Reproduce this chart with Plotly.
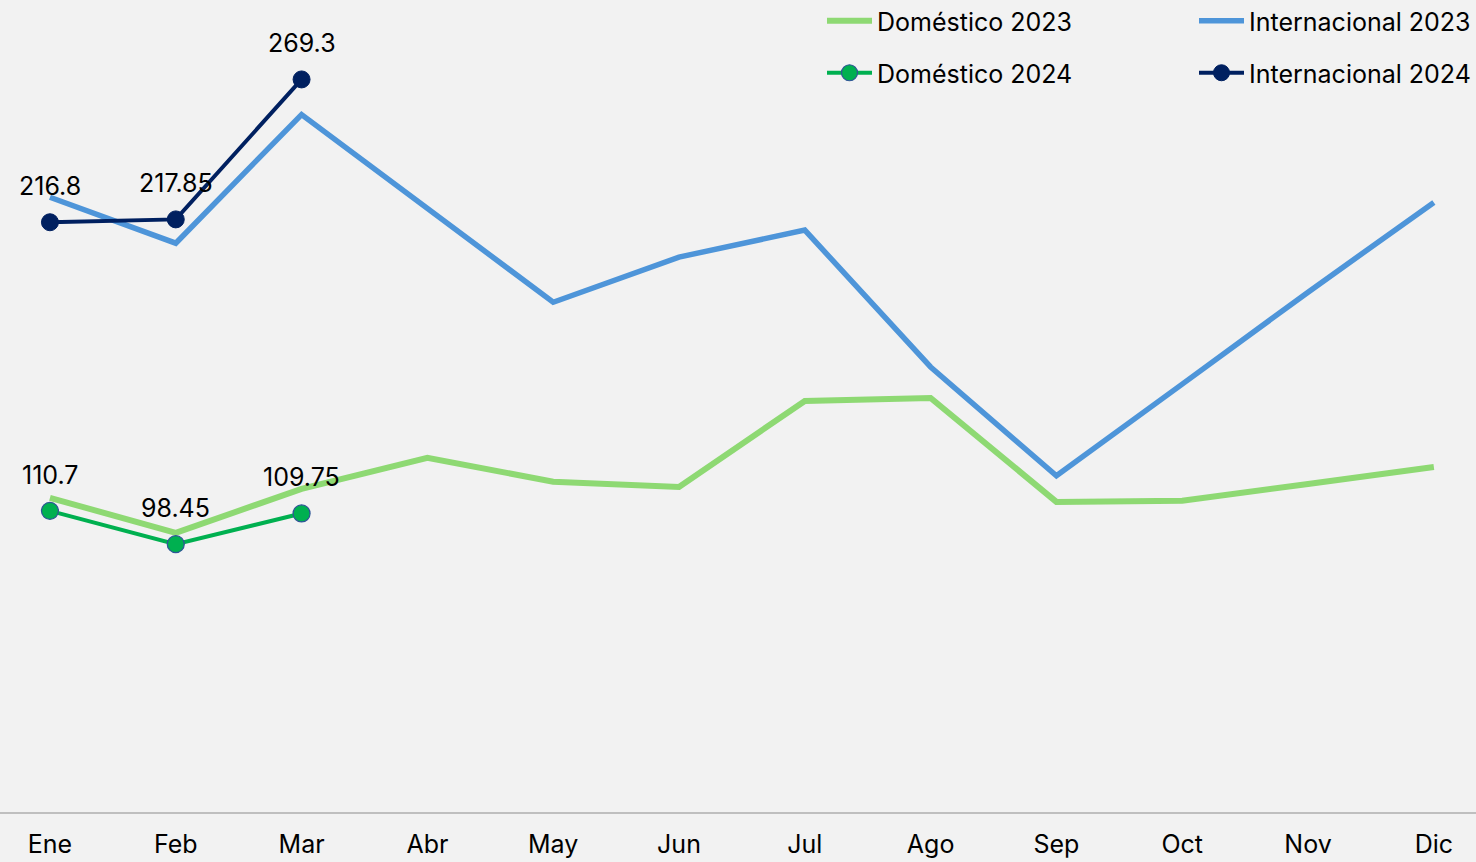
import plotly.graph_objects as go

meses = ["Ene", "Feb", "Mar", "Abr", "May", "Jun", "Jul", "Ago", "Sep", "Oct", "Nov", "Dic"]
dom_2023 = [115.5, 102.6, 118.8, 130.2, 121.4, 119.5, 151.1, 152.2, 114.0, 114.4, 120.6, 126.8]
int_2023 = [226.0, 209.1, 256.4, 221.6, 187.4, 204.0, 213.9, 163.6, 123.6, 157.3, 191.1, 224.1]
dom_2024 = [110.7, 98.45, 109.75]
int_2024 = [216.8, 217.85, 269.3]
meses_2024 = meses[:3]

FONT = "Inter"
BG = "#F2F2F2"

fig = go.Figure()
fig.add_trace(go.Scatter(x=meses, y=dom_2023, mode="lines", name="Doméstico 2023",
                         line=dict(color="#8ED973", width=6), legend="legend"))
fig.add_trace(go.Scatter(x=meses, y=int_2023, mode="lines", name="Internacional 2023",
                         line=dict(color="#4E95D9", width=5.5), legend="legend2"))
fig.add_trace(go.Scatter(x=meses_2024, y=dom_2024, mode="lines+markers", name="Doméstico 2024",
                         line=dict(color="#00B050", width=4),
                         marker=dict(size=17, color="#00B050", line=dict(color="#2F5597", width=1.2)),
                         legend="legend3"))
fig.add_trace(go.Scatter(x=meses_2024, y=int_2024, mode="lines+markers", name="Internacional 2024",
                         line=dict(color="#002060", width=4),
                         marker=dict(size=17, color="#002060", line=dict(color="#002060", width=1)),
                         legend="legend4"))

def fmt(v):
    s = ("%.2f" % v).rstrip("0").rstrip(".")
    return s

for xs, ys in ((meses_2024, dom_2024), (meses_2024, int_2024)):
    for xv, yv in zip(xs, ys):
        fig.add_annotation(x=xv, y=yv, text=fmt(yv), showarrow=False, yanchor="middle",
                           yshift=36, font=dict(family=FONT, size=25, color="#000000"))

H_PLOT = 812
def ly(px):
    return 1 - px / H_PLOT

leg_common = dict(bgcolor="rgba(0,0,0,0)", borderwidth=0, font=dict(family=FONT, size=25, color="#000000"),
                  itemwidth=45, yanchor="middle", tracegroupgap=0)
fig.update_layout(
    legend=dict(x=(822) / 1476, y=ly(21), xanchor="left", **leg_common),
    legend2=dict(x=1.0, y=ly(21), xanchor="right", **leg_common),
    legend3=dict(x=(822) / 1476, y=ly(73), xanchor="left", **leg_common),
    legend4=dict(x=1.0, y=ly(73), xanchor="right", **leg_common),
)

fig.update_layout(
    width=1476, height=862,
    margin=dict(l=0, r=0, t=0, b=50, autoexpand=False),
    paper_bgcolor=BG, plot_bgcolor=BG,
    showlegend=True,
    xaxis=dict(type="category", categoryorder="array", categoryarray=meses,
               range=[-0.397, 11.335], showgrid=False, zeroline=False, automargin=False,
               showline=True, linecolor="#BFBFBF", linewidth=1.5, ticks="",
               ticklabelstandoff=9,
               tickfont=dict(family=FONT, size=25, color="#000000")),
    yaxis=dict(range=[0, 298.5], showgrid=False, zeroline=False, showticklabels=False,
               showline=False, ticks="", automargin=False),
)

fig.write_html("out.html", config={"displayModeBar": False},
               post_script="document.body.style.margin='0';document.body.style.background='#F2F2F2';")
